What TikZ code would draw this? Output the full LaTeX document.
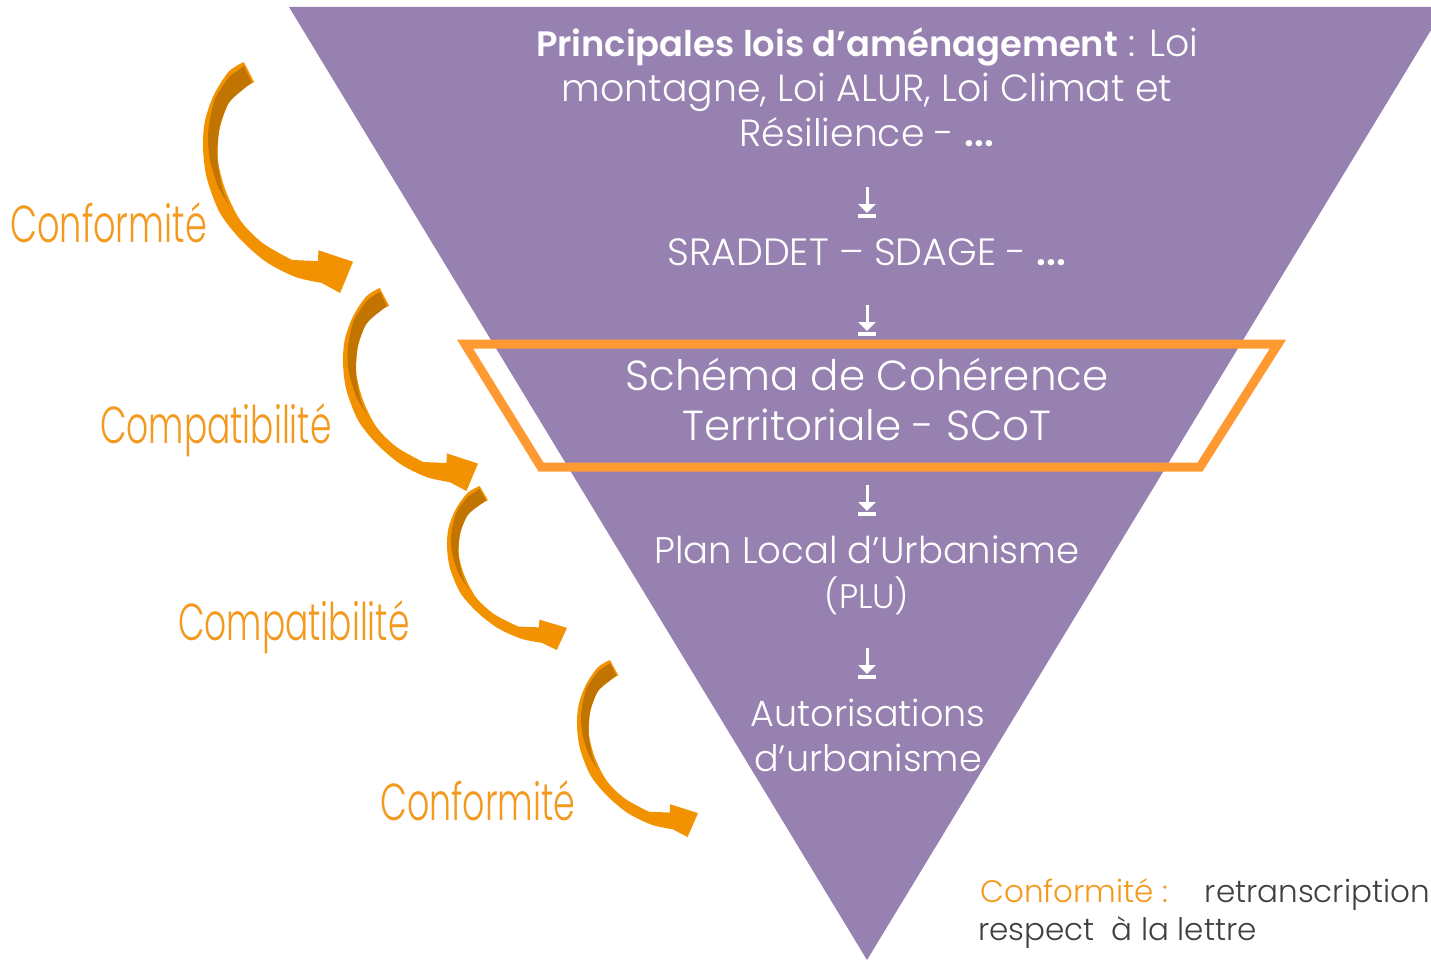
\documentclass[tikz,border=0pt]{standalone}
\usepackage{fontspec}
\usepackage{graphicx}
\setmainfont{Poppins}[UprightFont=* Light, BoldFont=* SemiBold]
\usetikzlibrary{arrows.meta}
\definecolor{purp}{HTML}{9781B1}
\definecolor{orgtext}{HTML}{F39A1E}
\definecolor{orgarrow}{HTML}{F39200}
\definecolor{orgdark}{HTML}{C27400}
\definecolor{orgframe}{HTML}{FF9A33}
\definecolor{legendgray}{HTML}{404040}
\newcommand\smalldown[1]{%
  \draw[downarr] (867,#1) -- (867,#1+26);
  \draw[downbar] (858,#1+29) -- (876,#1+29);}
\tikzset{
  intext/.style={text=white, anchor=base, inner sep=0pt, font=\fontsize{37.8}{44}\selectfont},
  bigtext/.style={intext, font=\fontsize{42}{50}\selectfont},
  lbl/.style={text=orgtext, anchor=base west, inner sep=0pt, font=\fontsize{52}{60}\selectfont},
  legtext/.style={text=legendgray, inner sep=0pt, font=\fontsize{31}{38}\selectfont},
  downarr/.style={white, line width=3pt, -{Triangle[width=17pt,length=9pt]}},
  downbar/.style={white, line width=4pt},
  frame/.style={orgframe, line width=9pt, miter limit=10},
  curvarrow/.pic={
    \fill[orgarrow] plot[smooth] coordinates {(0.272,0) (0.173,0.041) (0.074,0.140) (0.013,0.255) (0,0.371) (0.025,0.502) (0.111,0.651) (0.247,0.766) (0.420,0.865) (0.618,0.931) (0.790,0.956)}
      -- (0.914,1) -- (1,0.865) -- (0.770,0.815) -- (0.766,0.862)
      -- plot[smooth] coordinates {(0.593,0.857) (0.396,0.783) (0.247,0.684) (0.148,0.552) (0.099,0.420) (0.111,0.289) (0.173,0.173) (0.247,0.124) (0.341,0.087)} -- cycle;
    \fill[orgdark] (0.272,0.018) -- (0.325,0.088)
      -- plot[smooth] coordinates {(0.243,0.132) (0.168,0.182) (0.108,0.29) (0.096,0.42) (0.13,0.55) (0.18,0.63)}
      -- plot[smooth] coordinates {(0.10,0.54) (0.045,0.42) (0.035,0.3) (0.08,0.16) (0.18,0.06)} -- cycle;
  }
}
\begin{document}
\begin{tikzpicture}[x=1pt,y=-1pt]
\useasboundingbox (0,0) rectangle (1431,960);
\fill[white] (0,0) rectangle (1431,960);
\begin{scope}
  \clip (0,0) rectangle (1431,960);
  \fill[purp] (289,7) -- (1445,7) -- (867,960) -- cycle;
\end{scope}
\draw[frame] (465,344) -- (1278,344) -- (1200,467) -- (541,467) -- cycle;

\node[intext] (t1) at (867,57) {{\fontsize{35.3}{44}\selectfont\textbf{Principales lois d’aménagement}} : Loi};
\node[intext] (t2) at (867,102) {montagne, Loi ALUR, Loi Climat et};
\node[intext] (t3) at (867,147) {Résilience - \textbf{...}};
\node[intext, font=\fontsize{38}{44}\selectfont] (t4) at (867,265) {SRADDET – SDAGE - \textbf{...}};
\node[bigtext] (t5) at (867,390) {Schéma de Cohérence};
\node[bigtext] (t6) at (867,440) {Territoriale - SCoT};
\node[intext, font=\fontsize{37}{44}\selectfont] (t7) at (867,563) {Plan Local d’Urbanisme};
\node[intext, font=\fontsize{34}{40}\selectfont] (t8) at (867,608) {(PLU)};
\node[intext, font=\fontsize{36.5}{44}\selectfont] (t9) at (868,726) {Autorisations};
\node[intext, font=\fontsize{36.5}{44}\selectfont] (t10) at (868,771) {d’urbanisme};

\smalldown{187}
\smalldown{305}
\smalldown{485}
\smalldown{648}

\pic[shift={(203,62)}, xscale=150, yscale=231] (a1) {curvarrow};
\pic[shift={(343,288)}, xscale=135, yscale=203] (a2) {curvarrow};
\pic[shift={(447,486)}, xscale=120, yscale=164] (a3) {curvarrow};
\pic[shift={(577,660)}, xscale=121, yscale=177] (a4) {curvarrow};

\node[lbl] (c1) at (10,242) {\scalebox{0.675}[1]{Conformité}};
\node[lbl] (c2) at (100,443) {\scalebox{0.663}[1]{Compatibilité}};
\node[lbl] (c3) at (178,640) {\scalebox{0.663}[1]{Compatibilité}};
\node[lbl] (c4) at (380,820) {\scalebox{0.67}[1]{Conformité}};

\node[legtext, text=orgtext, anchor=base west] (l1) at (980,902) {Conformité\ :};
\node[legtext, anchor=base east] (l2) at (1430,902) {retranscription};
\node[legtext, anchor=base west] (l3) at (978,940) {respect\ \ à la lettre};
\end{tikzpicture}
\end{document}
